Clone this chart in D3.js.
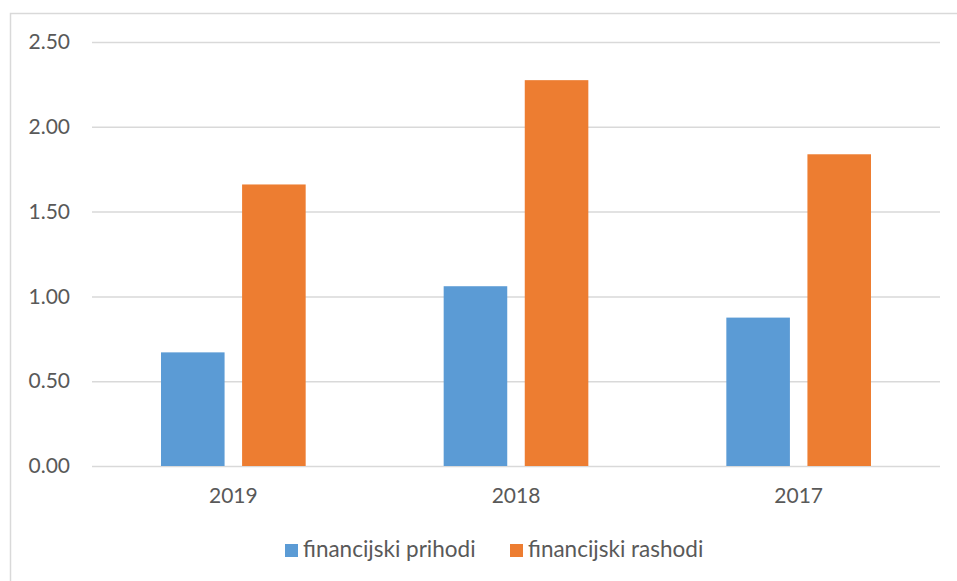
<!DOCTYPE html>
<html><head><meta charset="utf-8">
<script src="https://cdn.jsdelivr.net/npm/d3@7"></script>
<style>body{margin:0;background:#fff}svg{display:block}text{font-family:Lato,"Open Sans",sans-serif;fill:#595959}</style>
</head><body><svg id="c" width="957" height="581"></svg>
<script>
const categories = ["2019","2018","2017"];
const seriesNames = ["financijski prihodi","financijski rashodi"];
const prihodi = [0.67, 1.06, 0.875];
const rashodi = [1.66, 2.275, 1.838];
const yTicks = [0,0.5,1,1.5,2,2.5];
const colors = ["#5B9BD5","#ED7D31"];

(function(){
const svg = d3.select("#c");
svg.append("rect").attr("x",10.5).attr("y",13.5).attr("width",960).attr("height",600)
  .attr("fill","none").attr("stroke","#D9D9D9").attr("stroke-width",1.5);

const pLeft=92, pRight=940, pTop=42, pBottom=466;
const x0 = d3.scaleBand().domain(categories).range([pLeft,pRight]);
const bw = x0.bandwidth();
const x1 = d3.scaleBand().domain(seriesNames).range([69, bw-69]).paddingInner(0.216);
const y = d3.scaleLinear().domain([0,2.5]).range([pBottom,pTop]);

const yAxis = d3.axisLeft(y).tickValues(yTicks).tickFormat(d3.format(".2f")).tickSize(-(pRight-pLeft)).tickPadding(22);
const gy = svg.append("g").attr("transform",`translate(${pLeft},0)`).call(yAxis);
gy.select(".domain").remove();
gy.selectAll(".tick line").attr("stroke","#D9D9D9").attr("stroke-width",1.5);
gy.selectAll(".tick text").attr("font-size",21).attr("fill","#595959").style("font-family","Lato");

const data = categories.map((c,i)=>({c, vals:[prihodi[i], rashodi[i]]}));
const g = svg.append("g");
data.forEach(d=>{
  d.vals.forEach((v,j)=>{
    g.append("rect").attr("x",x0(d.c)+x1(seriesNames[j])).attr("width",x1.bandwidth())
     .attr("y",y(v)).attr("height",y(0)-y(v)).attr("fill",colors[j]);
  });
});

const xAxis = d3.axisBottom(x0).tickSize(0).tickPadding(22);
const gx = svg.append("g").attr("transform",`translate(0,${pBottom})`).call(xAxis);
gx.select(".domain").remove();
gx.selectAll(".tick text").attr("font-size",21).attr("fill","#595959").style("font-family","Lato");

const legX = [285, 510];
seriesNames.forEach((s,i)=>{
  svg.append("rect").attr("x",legX[i]).attr("y",544).attr("width",13).attr("height",13).attr("fill",colors[i]);
  svg.append("text").attr("x",legX[i]+18).attr("y",557).attr("font-size",22.5).text(s);
});
})();
</script></body></html>
